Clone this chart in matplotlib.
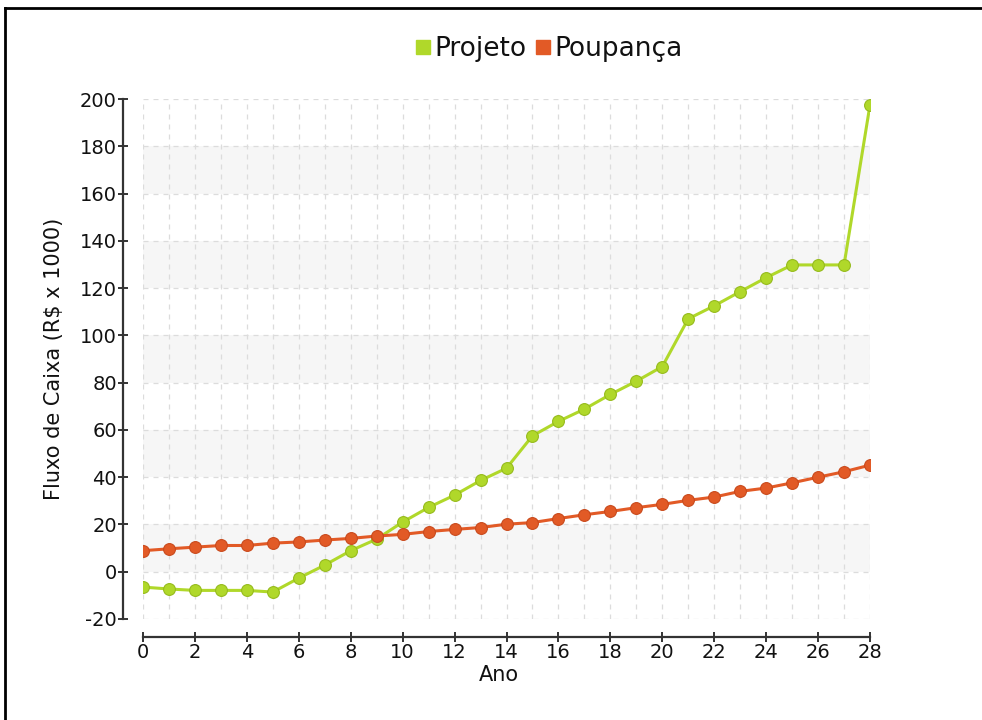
import matplotlib
matplotlib.use("Agg")
import matplotlib.pyplot as plt
from matplotlib.lines import Line2D
import numpy as np

# ---------------------------------------------------------------------------
# Data
# ---------------------------------------------------------------------------
anos = list(range(0, 29))

projeto = [-6.5, -7.3, -7.9, -7.9, -7.9, -8.6, -2.7, 2.8, 8.9, 13.8,
           21.0, 27.2, 32.4, 38.6, 43.8, 57.5, 63.6, 68.8, 75.0, 80.6,
           86.8, 107.0, 112.5, 118.5, 124.4, 129.8, 129.8, 129.8, 197.5]

poupanca = [8.9, 9.7, 10.4, 11.1, 11.1, 12.1, 12.6, 13.4, 14.1, 15.1,
            15.8, 17.0, 17.9, 18.7, 20.1, 20.8, 22.5, 24.1, 25.5, 27.1,
            28.5, 30.2, 31.6, 34.0, 35.4, 37.6, 40.0, 42.3, 45.1]

series_names = ["Projeto", "Poupança"]
y_ticks = list(range(-20, 201, 20))
x_ticks = list(range(0, 29, 2))
bands = [(0, 20), (40, 60), (80, 100), (120, 140), (160, 180)]

# ---------------------------------------------------------------------------
# Style
# ---------------------------------------------------------------------------
plt.rcParams["axes.unicode_minus"] = False

GREEN, GREEN_EDGE = "#b0d82a", "#96bb1c"
ORANGE, ORANGE_EDGE = "#e25a26", "#c94a1c"
AXIS_COLOR = "#333333"
TEXT_COLOR = "#111111"

W, H, DPI = 982, 720, 100
fig = plt.figure(figsize=(W / DPI, H / DPI), dpi=DPI)
ax = fig.add_axes([143 / W, (H - 619) / H, 727 / W, 520 / H])

for lo, hi in bands:
    ax.axhspan(lo, hi, color="#f6f6f6", zorder=0, lw=0)

# dashed grid: every year vertically, every 20 horizontally
for x in anos:
    ax.axvline(x, color="#dcdcdc", lw=0.9, ls=(0, (4, 4)), zorder=1)
for y in y_ticks:
    ax.axhline(y, color="#dcdcdc", lw=0.9, ls=(0, (4, 4)), zorder=1)

ax.plot(anos, projeto, "-o", color=GREEN, lw=2.2, markersize=8.5,
        markerfacecolor=GREEN, markeredgecolor=GREEN_EDGE, markeredgewidth=0.8,
        zorder=3)
ax.plot(anos, poupanca, "-o", color=ORANGE, lw=2.2, markersize=8.5,
        markerfacecolor=ORANGE, markeredgecolor=ORANGE_EDGE, markeredgewidth=0.8,
        zorder=4)

ax.set_xlim(0, 28)
ax.set_ylim(-20, 200)
ax.set_xticks(x_ticks)
ax.set_yticks(y_ticks)

for side in ["top", "right"]:
    ax.spines[side].set_visible(False)
ax.spines["left"].set_position(("outward", 14.4))
ax.spines["bottom"].set_position(("outward", 13))
for side in ["left", "bottom"]:
    ax.spines[side].set_color(AXIS_COLOR)
    ax.spines[side].set_linewidth(1.6)

ax.tick_params(axis="both", direction="inout", length=7, width=1.4,
               color=AXIS_COLOR, labelsize=14, labelcolor=TEXT_COLOR, pad=1)

ax.set_ylabel("Fluxo de Caixa (R\\$ x 1000)", fontsize=15, color=TEXT_COLOR)
ax.yaxis.set_label_coords(-0.108, 0.5)
ax.set_xlabel("Ano", fontsize=15, color=TEXT_COLOR)
ax.xaxis.set_label_coords(0.49, -0.088)

handles = [Line2D([], [], ls="none", marker="s", markersize=10.5, color=GREEN),
           Line2D([], [], ls="none", marker="s", markersize=10.5, color=ORANGE)]
fig.legend(handles, series_names, loc="center", ncol=2,
           bbox_to_anchor=(549 / W, 1 - 49 / H), frameon=False,
           fontsize=19, handlelength=0.6, handletextpad=0.15,
           columnspacing=0.3, labelcolor=TEXT_COLOR)

# outer frame (top and left edges, as in the reference)
fig.add_artist(Line2D([5 / W, 1], [1 - 8 / H, 1 - 8 / H], color="black",
                      lw=2, transform=fig.transFigure))
fig.add_artist(Line2D([5 / W, 5 / W], [0, 1 - 8 / H], color="black",
                      lw=2, transform=fig.transFigure))

fig.savefig("out.png", dpi=DPI)
